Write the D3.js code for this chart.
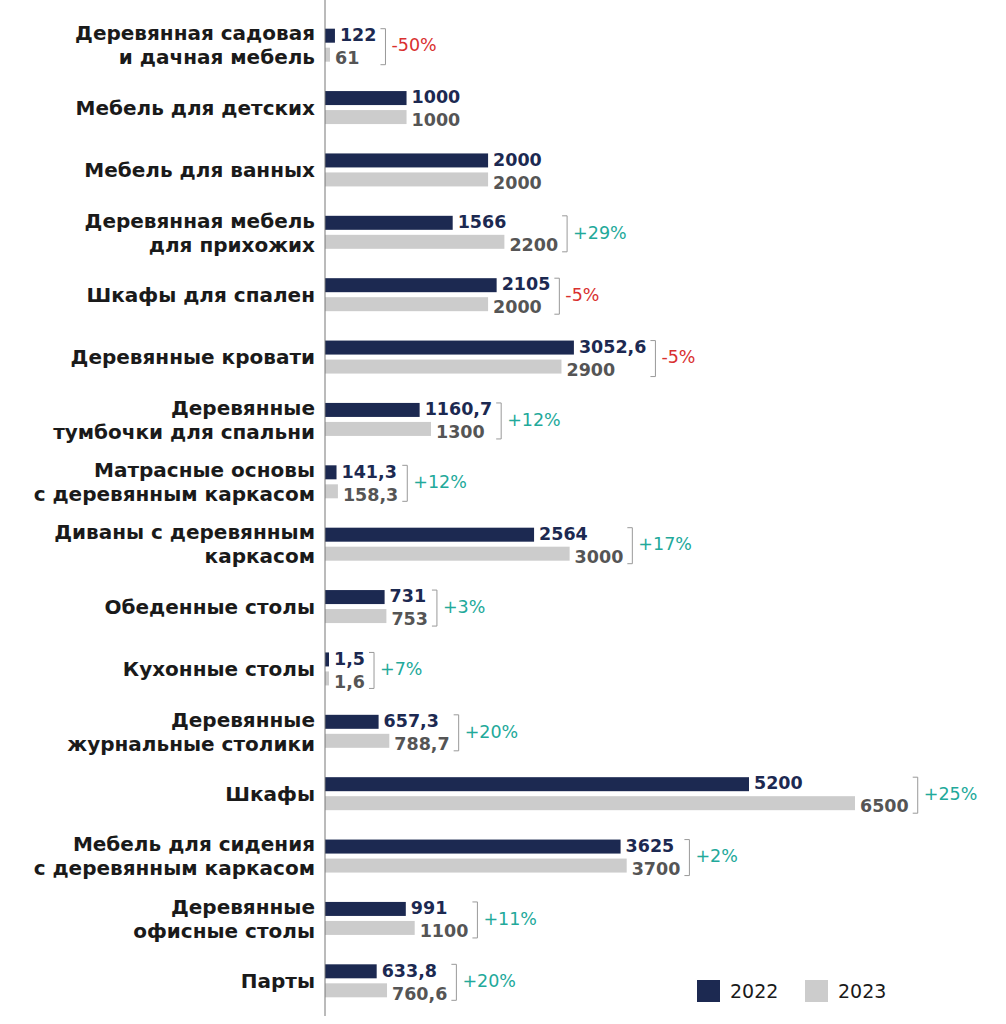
<!DOCTYPE html>
<html><head><meta charset="utf-8">
<script src="https://cdn.jsdelivr.net/npm/d3@7"></script>
<style>body{margin:0;background:#fff;font-family:"DejaVu Sans",sans-serif}</style>
</head><body>
<svg id="c" width="1006" height="1024"></svg>
<script>
const categories = ["Деревянная садовая\nи дачная мебель","Мебель для детских","Мебель для ванных ","Деревянная мебель\nдля прихожих ","Шкафы для спален","Деревянные кровати","Деревянные\nтумбочки для спальни","Матрасные основы\nс деревянным каркасом","Диваны с деревянным\nкаркасом","Обеденные столы","Кухонные столы","Деревянные\nжурнальные столики","Шкафы","Мебель для сидения\nс деревянным каркасом","Деревянные\nофисные столы","Парты"];
const values2022 = [122,1000,2000,1566,2105,3052.6,1160.7,141.3,2564,731,1.5,657.3,5200,3625,991,633.8];
const values2023 = [61,1000,2000,2200,2000,2900,1300,158.3,3000,753,1.6,788.7,6500,3700,1100,760.6];
const changes = ["-50%","","","+29%","-5%","-5%","+12%","+12%","+17%","+3%","+7%","+20%","+25%","+2%","+11%","+20%"];
const seriesNames = ["2022","2023"];

const svg = d3.select("#c");
const x0 = 325;
const x = d3.scaleLinear().domain([0,6500]).range([x0,855]);
const y = d3.scaleBand().domain(categories).range([14,1012]).paddingInner(0.36).paddingOuter(0.18);
const navy="#1c2951", grey="#cccccc";
const fmt = v => String(v).replace(".",",");
const bh = 14, gap = 5;

categories.forEach((c,i)=>{
  const mid = y(c)+y.bandwidth()/2;
  const t1 = mid - gap/2 - bh, t2 = mid + gap/2;
  svg.append("rect").attr("x",x0).attr("y",t1).attr("width",Math.max(x(values2022[i])-x0,4)).attr("height",bh).attr("fill",navy);
  svg.append("rect").attr("x",x0).attr("y",t2).attr("width",Math.max(x(values2023[i])-x0,4)).attr("height",bh).attr("fill",grey);
  const l1 = svg.append("text").attr("x",Math.max(x(values2022[i]),x0+4)+5).attr("y",t1+bh/2-1).attr("dy","0.36em")
    .attr("font-size",17.5).attr("font-weight",700).attr("fill",navy).text(fmt(values2022[i]));
  const l2 = svg.append("text").attr("x",Math.max(x(values2023[i]),x0+4)+5).attr("y",t2+bh/2+3).attr("dy","0.36em")
    .attr("font-size",17.5).attr("font-weight",700).attr("fill","#555").text(fmt(values2023[i]));
  const lines = c.split("\n");
  const tx = svg.append("text").attr("x",315).attr("font-size",20).attr("font-weight",700).attr("fill","#1a1a1a").attr("text-anchor","end");
  lines.forEach((ln,k)=>{
    tx.append("tspan").attr("x",315).attr("y",mid + (k-(lines.length-1)/2)*24).attr("dy","0.36em").text(ln);
  });
  if(changes[i]){
    const e1 = +l1.attr("x")+l1.node().getComputedTextLength();
    const e2 = +l2.attr("x")+l2.node().getComputedTextLength();
    const bx = Math.max(e1,e2)+9;
    svg.append("path").attr("d",`M${bx-5},${t1} H${bx} V${t2+bh+3} H${bx-5}`).attr("fill","none").attr("stroke","#999").attr("stroke-width",1);
    svg.append("text").attr("x",bx+6).attr("y",mid).attr("dy","0.36em").attr("font-size",17.5)
      .attr("fill",changes[i][0]==="-"?"#d9302f":"#22a99a").text(changes[i]);
  }
});
svg.append("line").attr("x1",x0).attr("x2",x0).attr("y1",0).attr("y2",1016).attr("stroke","#777").attr("stroke-width",1);

const lg = [[697,navy],[805,grey]];
lg.forEach((d,i)=>{
  svg.append("rect").attr("x",d[0]).attr("y",980).attr("width",23).attr("height",22).attr("fill",d[1]);
  svg.append("text").attr("x",d[0]+33).attr("y",991).attr("dy","0.36em").attr("font-size",19).attr("fill","#1a1a1a").text(seriesNames[i]);
});
</script>
</body></html>
